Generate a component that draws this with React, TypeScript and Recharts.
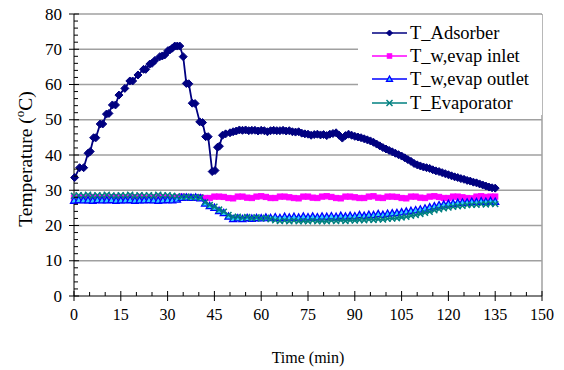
import React from 'react';
import { LineChart, Line, XAxis, YAxis, CartesianGrid } from 'recharts';

const FONT = "'Liberation Serif', 'Times New Roman', Times, serif";

// axis ticks: labelled every 15 min / 10 degC, minor marks in between
const X_TICKS = [0, 5, 10, 15, 20, 25, 30, 35, 40, 45, 50, 55, 60, 65, 70, 75, 80, 85, 90, 95, 100, 105, 110, 115, 120, 125, 130, 135, 140, 145, 150];
const Y_TICKS = [0, 2, 4, 6, 8, 10, 12, 14, 16, 18, 20, 22, 24, 26, 28, 30, 32, 34, 36, 38, 40, 42, 44, 46, 48, 50, 52, 54, 56, 58, 60, 62, 64, 66, 68, 70, 72, 74, 76, 78, 80];
const GRID_Y = [10, 20, 30, 40, 50, 60, 70, 80];

// T_Adsorber (its own sampling times)
const ADS_TIME = [
  0.2, 1.8, 3.1, 4.5, 5.2, 6.3, 7.0, 8.4, 9.2, 10.4,
  11.2, 12.3, 13.3, 14.4, 16.3, 17.9, 18.8, 20.5, 22.3, 23.0,
  24.3, 25.0, 25.9, 27.5, 28.3, 29.1, 30.1, 30.7, 31.5, 32.3,
  33.1, 33.9, 35, 36, 36.8, 37.9, 38.8, 40.3, 41.2, 42.2,
  43.0, 44.3, 45.2, 46.0, 46.6, 47.6, 48.6,
  50, 51, 52, 53, 54, 55, 56, 57, 58, 59,
  60, 61, 62, 63, 64, 65, 66, 67, 68, 69,
  70, 71, 72, 73, 74, 75, 76, 77, 78, 79,
  80, 81, 82, 83, 84, 85, 86, 87, 88, 89,
  90, 91, 92, 93, 94, 95, 96, 97, 98, 99,
  100, 101, 102, 103, 104, 105, 106, 107, 108, 109,
  110, 111, 112, 113, 114, 115, 116, 117, 118, 119,
  120, 121, 122, 123, 124, 125, 126, 127, 128, 129,
  130, 131, 132, 133, 134, 135,
];
const ADS_TEMP = [
  33.6, 36.4, 36.4, 40.5, 41.0, 44.9, 44.9, 48.8, 48.8, 51.6,
  51.8, 54.2, 54.2, 57.0, 58.9, 61.0, 61.0, 62.7, 64.3, 64.3,
  65.8, 66.0, 66.8, 67.9, 68.1, 68.4, 69.6, 69.8, 70.3, 70.9,
  70.9, 70.9, 67.9, 60.3, 60.2, 54.7, 54.6, 49.4, 49.2, 45.2,
  45.2, 35.3, 35.6, 42.2, 42.5, 45.6, 46.0,
  46.3, 46.6, 46.8, 47.1, 47.0, 47.1, 46.9, 47.0, 47.0, 46.8,
  47.0, 46.9, 46.6, 46.9, 47.0, 46.9, 46.9, 47.0, 46.8, 46.9,
  46.6, 46.5, 46.6, 46.2, 46.0, 45.9, 45.6, 45.8, 45.9, 45.7,
  45.8, 45.5, 45.9, 46.1, 46.3, 45.6, 44.8, 45.5, 45.9, 45.6,
  45.3, 45.1, 44.9, 44.6, 44.3, 44.0, 43.6, 43.1, 42.6, 42.1,
  41.7, 41.3, 40.9, 40.5, 40.1, 39.7, 39.2, 38.7, 38.2, 37.6,
  37.2, 36.9, 36.6, 36.4, 36.2, 35.8, 35.5, 35.3, 35.0, 34.7,
  34.4, 34.1, 33.8, 33.6, 33.3, 33.1, 32.8, 32.6, 32.3, 32.1,
  31.8, 31.5, 31.2, 30.9, 30.7, 30.6,
];

// water / evaporator temperatures, logged every 1.5 min
const LOW_TIME = Array.from({ length: 91 }, (_, i) => i * 1.5);
const INLET = [
  27.9, 28.0, 27.8, 27.9, 28.1, 28.0, 27.9, 27.8, 28.0, 28.1,
  27.9, 27.8, 27.9, 28.0, 28.1, 27.9, 27.8, 28.0, 28.1, 28.0,
  27.9, 27.8, 28.0, 28.2, 28.1, 28.0, 27.9, 28.0,
  27.8, 27.8, 28.2, 28.2, 28.1, 27.8, 27.7, 28.2, 28.2, 27.9,
  27.8, 28.2, 28.3, 28.1, 27.8, 27.8, 28.2, 28.2, 28.0, 27.8,
  27.7, 28.2, 28.2, 27.9, 27.8, 28.2, 28.3, 28.1, 27.8, 27.7,
  28.2, 28.2, 28.0, 27.8, 27.8, 28.2, 28.3, 27.9, 27.8, 28.2,
  28.2, 28.1, 27.8, 27.7, 28.2, 28.2, 27.9, 27.8, 28.2, 28.3,
  28.1, 27.8, 27.8, 28.2, 28.2, 28.0, 27.8, 27.7, 28.2, 28.3,
  28.1, 28.2, 28.2,
];
const OUTLET = [
  27.1, 27.3, 27.2, 27.2, 27.1, 27.3, 27.2, 27.2, 27.3, 27.1,
  27.2, 27.2, 27.3, 27.1, 27.2, 27.2, 27.3, 27.2, 27.1, 27.2,
  27.3, 27.2, 27.4, 27.9, 28.0, 27.9, 28.0, 27.8, 26.3, 25.6,
  25.1, 24.2, 23.6, 22.6, 21.9, 22.1, 21.9, 22.2, 22.0, 22.2,
  22.1, 22.3, 22.2, 22.4, 22.2, 22.5, 22.3, 22.5, 22.3, 22.6,
  22.4, 22.6, 22.4, 22.6, 22.5, 22.7, 22.5, 22.8, 22.6, 22.8,
  22.7, 23.0, 22.8, 23.1, 23.0, 23.3, 23.1, 23.4, 23.5, 23.6,
  23.8, 24.0, 24.2, 24.4, 24.6, 24.9, 25.2, 25.5, 25.8, 26.0,
  26.2, 26.3, 26.5, 26.6, 26.6, 26.8, 26.7, 26.9, 26.8, 27.0,
  26.8,
];
const EVAPORATOR = [
  28.4, 28.6, 28.5, 28.7, 28.4, 28.6, 28.5, 28.7, 28.5, 28.4,
  28.6, 28.5, 28.7, 28.4, 28.6, 28.5, 28.6, 28.4, 28.7, 28.5,
  28.6, 28.4, 28.3, 28.1, 28.2, 28.0, 28.1, 27.9, 26.6, 25.8,
  25.3, 24.5, 23.9, 23.0, 22.4, 22.5, 22.2, 22.4, 22.1, 22.3,
  22.0, 22.2, 21.8, 21.5, 21.3, 21.4, 21.2, 21.4, 21.2, 21.3,
  21.2, 21.4, 21.2, 21.3, 21.2, 21.4, 21.3, 21.5, 21.3, 21.5,
  21.4, 21.6, 21.5, 21.7, 21.6, 21.8, 21.7, 21.9, 22.0, 22.1,
  22.3, 22.5, 22.8, 23.0, 23.3, 23.6, 23.9, 24.3, 24.6, 24.9,
  25.1, 25.3, 25.5, 25.6, 25.8, 25.9, 25.9, 26.1, 26.0, 26.2,
  26.1,
];

const toPoints = (times: number[], temps: number[]) =>
  times.map((t, i) => ({ t, v: temps[i] }));

const adsData = toPoints(ADS_TIME, ADS_TEMP);
const inletData = toPoints(LOW_TIME, INLET);
const outletData = toPoints(LOW_TIME, OUTLET);
const evapData = toPoints(LOW_TIME, EVAPORATOR);

type Shape = 'diamond' | 'square' | 'triangle' | 'cross';

const marker = (shape: Shape, cx: number, cy: number, s: number, key?: string | number) => {
  if (shape === 'diamond') {
    return <polygon key={key} points={`${cx},${cy - s} ${cx + s},${cy} ${cx},${cy + s} ${cx - s},${cy}`} fill="#000080" stroke="#000080" strokeWidth={1} />;
  }
  if (shape === 'square') {
    return <rect key={key} x={cx - s * 0.75} y={cy - s * 0.75} width={s * 1.5} height={s * 1.5} fill="#FF00FF" stroke="#FF00FF" />;
  }
  if (shape === 'triangle') {
    return <polygon key={key} points={`${cx},${cy - s} ${cx + s},${cy + s * 0.8} ${cx - s},${cy + s * 0.8}`} fill="#33CCFF" stroke="#0000FF" strokeWidth={1.3} />;
  }
  return (
    <g key={key} stroke="#008080" strokeWidth={1.5}>
      <line x1={cx - s} y1={cy - s} x2={cx + s} y2={cy + s} />
      <line x1={cx - s} y1={cy + s} x2={cx + s} y2={cy - s} />
    </g>
  );
};

const dotOf = (shape: Shape, s: number) => (p: any) => marker(shape, p.cx, p.cy, s, `${shape}-${p.index}`);

const XTick = (props: any) => {
  const { x, y, payload } = props;
  const v = payload.value;
  if (v % 15 !== 0) return <line x1={x} x2={x} y1={y - 4} y2={y} stroke="#000" />;
  return (
    <g>
      <line x1={x} x2={x} y1={y - 5} y2={y + 5} stroke="#000" />
      <text x={x} y={y + 24} textAnchor="middle" style={{ fontFamily: FONT, fontSize: 16 }} fill="#000">{v}</text>
    </g>
  );
};

const YTick = (props: any) => {
  const { x, y, payload } = props;
  const v = payload.value;
  if (v % 10 !== 0) return <line x1={x} x2={x + 4} y1={y} y2={y} stroke="#000" />;
  return (
    <g>
      <line x1={x - 5} x2={x + 5} y1={y} y2={y} stroke="#000" />
      <text x={x - 12} y={y + 5.5} textAnchor="end" style={{ fontFamily: FONT, fontSize: 17 }} fill="#000">{v}</text>
    </g>
  );
};

const XLabel = () => (
  <text x={308} y={363} textAnchor="middle" style={{ fontFamily: FONT, fontSize: 16 }} fill="#000">Time (min)</text>
);

const YLabel = () => (
  <text transform="translate(32,159) rotate(-90)" textAnchor="middle" style={{ fontFamily: FONT, fontSize: 19.5 }} fill="#000">
    Temperature (<tspan dy={-8} style={{ fontSize: 13 }}>o</tspan><tspan dy={8}>C)</tspan>
  </text>
);

const LEGEND: { name: string; shape: Shape; color: string }[] = [
  { name: 'T_Adsorber', shape: 'diamond', color: '#000080' },
  { name: 'T_w,evap inlet', shape: 'square', color: '#FF00FF' },
  { name: 'T_w,evap outlet', shape: 'triangle', color: '#0000FF' },
  { name: 'T_Evaporator', shape: 'cross', color: '#008080' },
];

export default function App() {
  return (
    <div style={{ position: 'absolute', left: 0, top: 0, width: 564, height: 370, background: '#fff', fontFamily: FONT }}>
      <LineChart width={564} height={370} margin={{ top: 14, right: 22, left: 0, bottom: 0 }}>
        <CartesianGrid horizontalValues={GRID_Y} verticalValues={[150]} stroke="#a0a0a0" strokeWidth={1.5} />
        <XAxis
          type="number"
          dataKey="t"
          domain={[0, 150]}
          ticks={X_TICKS}
          interval={0}
          height={74}
          tickSize={0}
          tickMargin={0}
          tick={<XTick />}
          stroke="#000"
          label={<XLabel />}
        />
        <YAxis
          type="number"
          domain={[0, 80]}
          ticks={Y_TICKS}
          interval={0}
          width={74}
          tickSize={0}
          tickMargin={0}
          tick={<YTick />}
          stroke="#000"
          label={<YLabel />}
        />
        <Line data={adsData} dataKey="v" stroke="#000080" strokeWidth={1.8} dot={dotOf('diamond', 4)} isAnimationActive={false} />
        <Line data={inletData} dataKey="v" stroke="#FF00FF" strokeWidth={1.5} dot={dotOf('square', 3.5)} isAnimationActive={false} />
        <Line data={outletData} dataKey="v" stroke="#0000FF" strokeWidth={1.5} dot={dotOf('triangle', 3.5)} isAnimationActive={false} />
        <Line data={evapData} dataKey="v" stroke="#008080" strokeWidth={1.5} dot={dotOf('cross', 3)} isAnimationActive={false} />
      </LineChart>
      <div style={{ position: 'absolute', left: 358, top: 15, width: 184, height: 100, background: '#fff', paddingTop: 6, boxSizing: 'border-box', fontFamily: FONT, fontSize: 18.5, color: '#000' }}>
        {LEGEND.map((it) => (
          <div key={it.name} style={{ display: 'flex', alignItems: 'center', height: 23.3 }}>
            <svg width={50} height={14} style={{ flex: 'none' }}>
              <line x1={14} x2={49} y1={7} y2={7} stroke={it.color} strokeWidth={1.5} />
              {marker(it.shape, 31.5, 7, 3)}
            </svg>
            <span style={{ marginLeft: 2, whiteSpace: 'nowrap', lineHeight: '18px' }}>{it.name}</span>
          </div>
        ))}
      </div>
    </div>
  );
}
